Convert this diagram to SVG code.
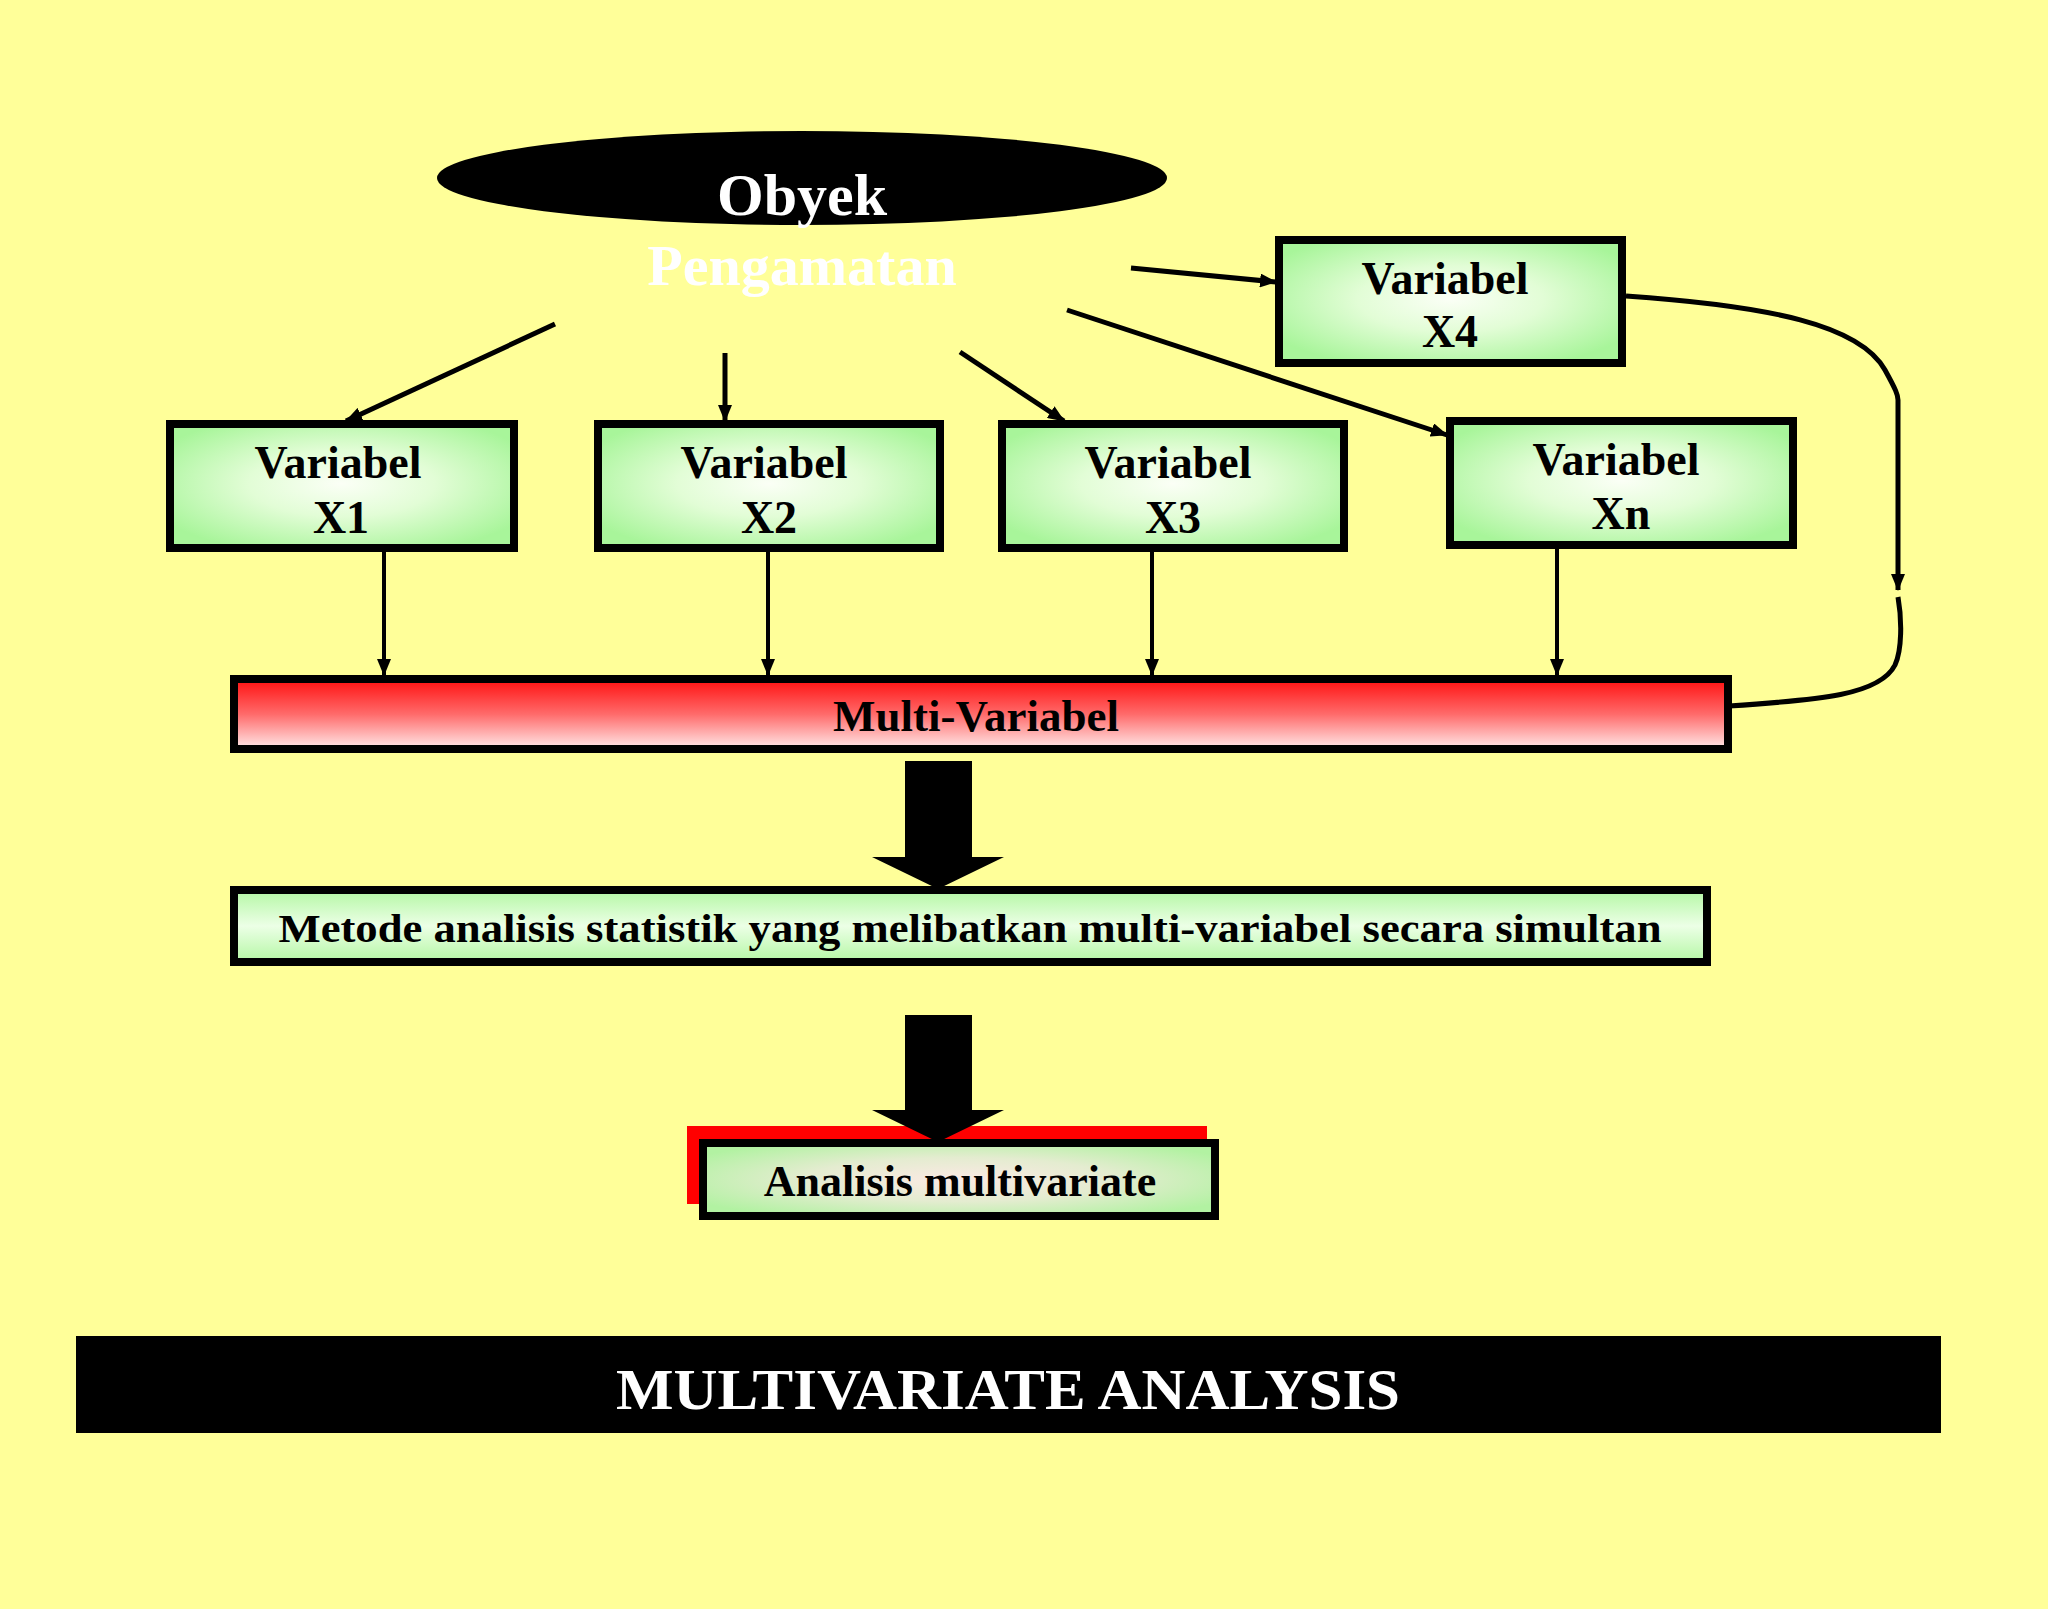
<svg xmlns="http://www.w3.org/2000/svg" width="2048" height="1609" viewBox="0 0 2048 1609">
<defs>
<radialGradient id="gGreen" cx="50%" cy="48%" r="60%">
<stop offset="0" stop-color="#fbfff6"/>
<stop offset="0.45" stop-color="#e2fdd6"/>
<stop offset="1" stop-color="#a8f59a"/>
</radialGradient>
<linearGradient id="gRed" x1="0" y1="0" x2="0" y2="1">
<stop offset="0" stop-color="#ff1010"/>
<stop offset="0.5" stop-color="#ff6a6a"/>
<stop offset="1" stop-color="#ffeaea"/>
</linearGradient>
<linearGradient id="gMet" x1="0" y1="0" x2="0" y2="1">
<stop offset="0" stop-color="#b4f7a4"/>
<stop offset="0.5" stop-color="#ecffe6"/>
<stop offset="1" stop-color="#b4f7a4"/>
</linearGradient>
<radialGradient id="gAna" cx="50%" cy="50%" r="60%">
<stop offset="0" stop-color="#fbe9e4"/>
<stop offset="0.5" stop-color="#e4ecd0"/>
<stop offset="1" stop-color="#b2f2a2"/>
</radialGradient>
<marker id="ah" markerUnits="userSpaceOnUse" markerWidth="18" markerHeight="14" refX="16" refY="7" orient="auto">
<path d="M0,0 L17,7 L0,14 Z" fill="#000"/>
</marker>
<style>
.box{stroke:#000;stroke-width:8;fill:url(#gGreen)}
.t{font-family:"Liberation Serif","Times New Roman",serif;font-weight:bold;fill:#000;text-anchor:middle}
.c{fill:none;stroke:#000;stroke-width:5}
.ca{fill:none;stroke:#000;stroke-width:5;marker-end:url(#ah)}
.cv{fill:none;stroke:#000;stroke-width:4;marker-end:url(#ah)}
</style>
</defs>
<rect x="0" y="0" width="2048" height="1609" fill="#ffff99"/>

<g id="obyek">
<ellipse cx="802" cy="178" rx="365" ry="47" fill="#000"/>
<text class="t" x="802" y="215" font-size="60" style="fill:#fff">Obyek</text>
<text class="t" x="802" y="285" font-size="58" style="fill:#fff">Pengamatan</text>
</g>

<g id="x1">
<rect class="box" x="170" y="424" width="344" height="124"/>
<text class="t" x="338" y="478" font-size="46">Variabel</text>
<text class="t" x="341" y="533" font-size="46">X1</text>
</g>
<g id="x2">
<rect class="box" x="598" y="424" width="342" height="124"/>
<text class="t" x="764" y="478" font-size="46">Variabel</text>
<text class="t" x="769" y="533" font-size="46">X2</text>
</g>
<g id="x3">
<rect class="box" x="1002" y="424" width="342" height="124"/>
<text class="t" x="1168" y="478" font-size="46">Variabel</text>
<text class="t" x="1173" y="533" font-size="46">X3</text>
</g>
<g id="xn">
<rect class="box" x="1450" y="421" width="343" height="124"/>
<text class="t" x="1616" y="475" font-size="46">Variabel</text>
<text class="t" x="1621" y="529" font-size="46">Xn</text>
</g>
<g id="x4">
<rect class="box" x="1279" y="240" width="343" height="123"/>
<text class="t" x="1445" y="294" font-size="46">Variabel</text>
<text class="t" x="1450" y="347" font-size="46">X4</text>
</g>

<g id="multi">
<rect x="234" y="679" width="1494" height="70" stroke="#000" stroke-width="8" fill="url(#gRed)"/>
<text class="t" x="976" y="731" font-size="45">Multi-Variabel</text>
</g>

<g id="metode">
<rect x="234" y="890" width="1473" height="72" stroke="#000" stroke-width="8" fill="url(#gMet)"/>
<text class="t" x="970" y="942" font-size="40" textLength="1383" lengthAdjust="spacingAndGlyphs">Metode analisis statistik yang melibatkan multi-variabel secara simultan</text>
</g>

<g id="analisis">
<rect x="687" y="1126" width="520" height="78" fill="#ff0000"/>
<rect x="703" y="1143" width="512" height="73" stroke="#000" stroke-width="8" fill="url(#gAna)"/>
<text class="t" x="960" y="1196" font-size="44">Analisis multivariate</text>
</g>

<g id="title">
<rect x="76" y="1336" width="1865" height="97" fill="#000"/>
<text class="t" x="1008" y="1409" font-size="58" style="fill:#fff" textLength="784" lengthAdjust="spacingAndGlyphs">MULTIVARIATE ANALYSIS</text>
</g>

<g id="connectors">
<line class="ca" x1="555" y1="324" x2="346" y2="421"/>
<line class="ca" x1="725" y1="353" x2="725" y2="421"/>
<line class="ca" x1="960" y1="352" x2="1064" y2="421"/>
<line class="ca" x1="1067" y1="310" x2="1447" y2="435"/>
<line class="ca" x1="1131" y1="268" x2="1276" y2="282"/>
<path class="ca" d="M1626,296 C1770,306 1860,325 1885,370 C1896,390 1898,395 1898,400 L1898,590"/>
<path class="c" d="M1898,597 C1902,620 1902,650 1895,665 C1880,695 1820,700 1729,706"/>
<line class="cv" x1="384" y1="550" x2="384" y2="675"/>
<line class="cv" x1="768" y1="550" x2="768" y2="675"/>
<line class="cv" x1="1152" y1="550" x2="1152" y2="675"/>
<line class="cv" x1="1557" y1="547" x2="1557" y2="675"/>
<path d="M905,761 L972,761 L972,857 L1004,857 L938,889 L872,857 L905,857 Z" fill="#000"/>
<path d="M905,1015 L972,1015 L972,1110 L1004,1110 L938,1142 L872,1110 L905,1110 Z" fill="#000"/>
</g>
</svg>
